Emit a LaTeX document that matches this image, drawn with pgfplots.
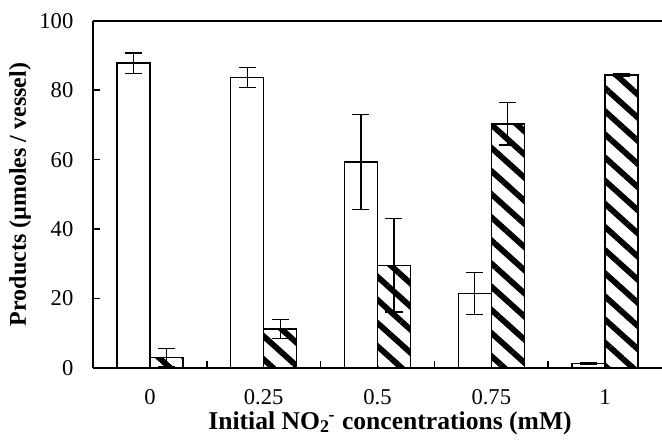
\documentclass[border=0pt]{standalone}
\usepackage{pgfplots}
\pgfplotsset{compat=1.18}
\usepackage{fontspec}
\setmainfont{Liberation Serif}
\usetikzlibrary{patterns.meta}

\pgfplotstableread{
x  y     e
0  87.8  2.9
1  83.6  2.9
2  59.3  13.7
3  21.5  6.0
4  1.3   0.3
}\whitedata

\pgfplotstableread{
x  y     e
0  3.0   2.6
1  11.2  2.7
2  29.6  13.5
3  70.3  6.1
4  84.4  0.4
}\hatchdata

\begin{document}
\begin{tikzpicture}
\begin{axis}[
  scale only axis, width=284.5pt, height=173.65pt,
  xmin=-0.5, xmax=4.5, ymin=0, ymax=100,
  ybar=0pt, bar width=16.5pt,
  axis x line*=bottom, axis y line*=left,
  axis line style={line width=0.8pt,-},
  every outer x axis line/.append style={-},
  every outer y axis line/.append style={-},
  ytick={0,20,...,100},
  xtick={0.5,1.5,2.5,3.5}, xticklabels={},
  extra x ticks={0,1,2,3,4},
  extra x tick labels={0,0.25,0.5,0.75,1},
  extra x tick style={major tick length=0pt, tick style={draw=none}},
  tick align=inside, major tick length=3.5pt,
  tick style={black, line width=0.8pt},
  font=\fontsize{11.3}{13}\selectfont,
  /pgf/number format/assume math mode=true,
  yticklabel style={xshift=-6.3pt},
  xticklabel style={anchor=base, inner sep=0pt, yshift=-18pt},
  xlabel={\textbf{Initial NO\textsubscript{2}\kern-0.05em\textsuperscript{-} concentrations (mM)}},
  ylabel={\textbf{Products (µmoles / vessel)}},
  xlabel style={at={(axis description cs:0.522,0)}, anchor=base, inner sep=0pt, yshift=-30.5pt, font=\fontsize{12.8}{14}\selectfont},
  ylabel style={at={(axis description cs:-0.1283,0.5)}, anchor=center, rotate=0, font=\fontsize{12}{14}\selectfont},
  error bars/error bar style={line width=0.6pt, solid},
  error bars/error mark options={rotate=90, mark size=4.25pt, line width=0.6pt},
]
\addplot[draw=black, fill=white, line width=0.7pt,
  error bars/.cd, y dir=both, y explicit]
  table[x=x, y=y, y error=e] {\whitedata};
\addplot[draw=black, line width=0.7pt,
  pattern={Lines[angle=-42, distance=8.6pt, line width=2.9pt]},
  error bars/.cd, y dir=both, y explicit]
  table[x=x, y=y, y error=e] {\hatchdata};
\draw[line width=0.8pt] (rel axis cs:0,1) -- (rel axis cs:1,1);
\coordinate (sw) at (rel axis cs:0,0);
\coordinate (ne) at (rel axis cs:1,1);
\end{axis}
\pgfresetboundingbox
\path ([shift={(-46.5pt,-39pt)}]sw) rectangle ([shift={(0pt,10.35pt)}]ne);
\end{tikzpicture}
\end{document}
